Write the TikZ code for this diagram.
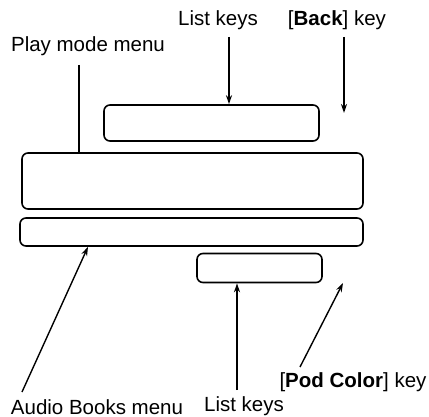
\documentclass[tikz,border=0pt]{standalone}
\usepackage{fontspec}
\setmainfont{Liberation Sans}
\usetikzlibrary{arrows.meta}
\begin{document}
\begin{tikzpicture}[x=1pt,y=-1pt,
  box/.style={draw,line width=1.6pt,rounded corners=6pt,inner sep=0pt},
  lbl/.style={font=\fontsize{20.5}{24}\selectfont,inner sep=0pt,anchor=base},
  conn/.style={line width=1.4pt},
  arr/.style={conn,-{Stealth[length=9pt,width=6pt]}}]
\useasboundingbox (0,0) rectangle (429,417);
\node[box,minimum width=215pt,minimum height=36pt] (top) at (211.5,123) {};
\node[box,minimum width=341pt,minimum height=56pt] (big) at (192.5,181) {};
\node[box,minimum width=343pt,minimum height=28pt] (thin) at (191.5,232) {};
\node[box,minimum width=125pt,minimum height=29pt] (small) at (259.5,268) {};
\node[lbl] (lk1) at (218,26) {List keys};
\node[lbl] (back) at (337,26) {[\textbf{Back}] key};
\node[lbl] (pm) at (88,52) {Play mode menu};
\node[lbl] (ab) at (97,414) {Audio Books menu};
\node[lbl] (lk2) at (244,411) {List keys};
\node[lbl] (pc) at (353,387) {[\textbf{Pod Color}] key};
\coordinate (a1) at (79,65);
\draw[conn] (a1) -- (a1 |- big.north);
\coordinate (b1) at (229,37);
\draw[arr] (b1) -- (b1 |- top.north);
\coordinate (c1) at (344,37);
\coordinate (c2) at (344,113);
\draw[arr] (c1) -- (c2);
\coordinate (d1) at (22,392);
\coordinate (d2) at (88,0);
\draw[arr] (d1) -- (d2 |- thin.south);
\coordinate (e1) at (237,390);
\draw[arr] (e1) -- (e1 |- small.south);
\coordinate (f1) at (300,367);
\coordinate (f2) at (343,283);
\draw[arr] (f1) -- (f2);
\end{tikzpicture}
\end{document}
